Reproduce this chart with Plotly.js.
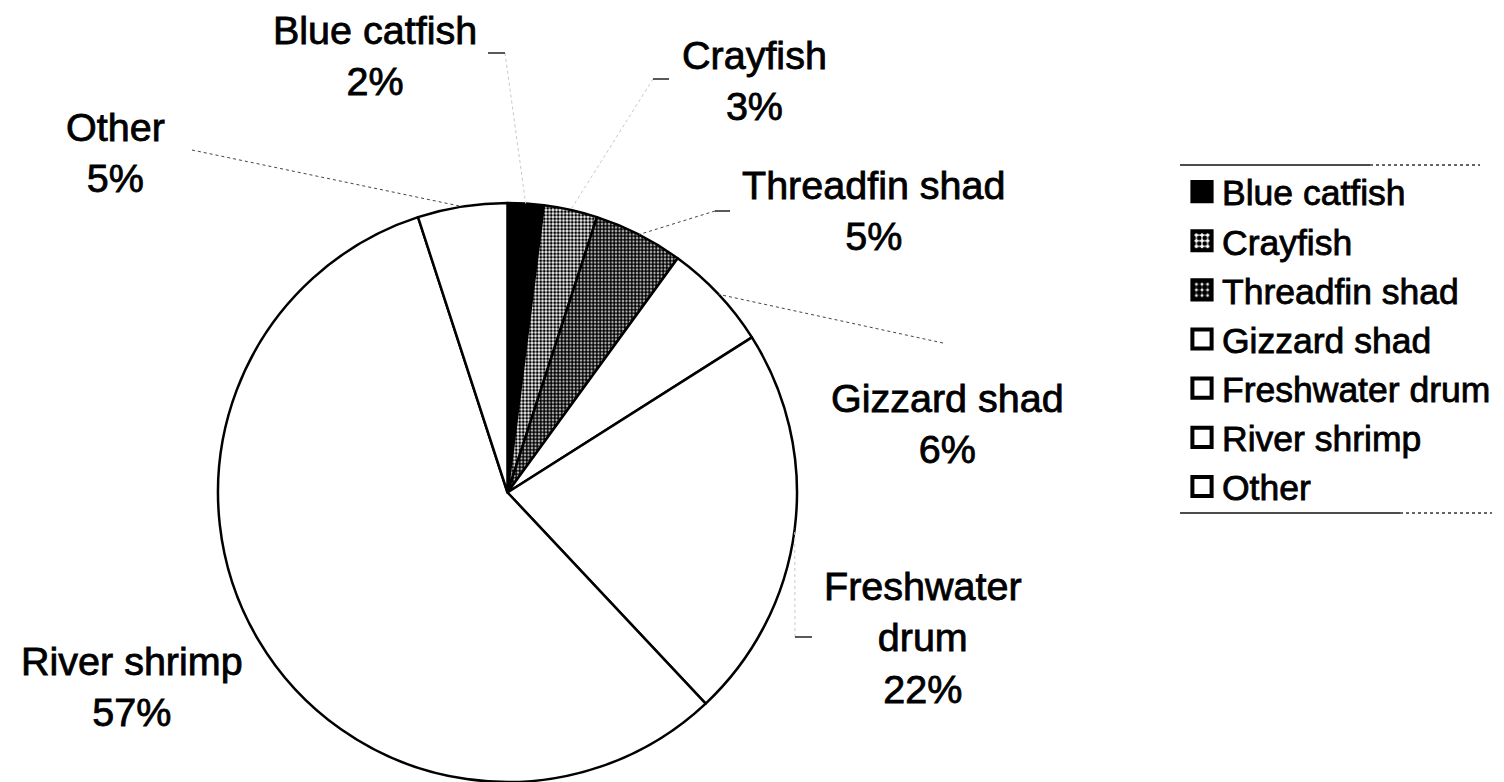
<!DOCTYPE html>
<html>
<head>
<meta charset="utf-8">
<script src="https://cdn.plot.ly/plotly-3.0.1.min.js"></script>
<style>
  html, body { margin: 0; padding: 0; background: #ffffff; overflow: hidden; }
  #chart { width: 1504px; height: 782px; }
  /* heavier glyphs for the printed-looking labels */
  #chart text.annotation-text, #chart text.legendtext { stroke: #000000; stroke-width: 0.8px; }
</style>
</head>
<body>
<div id="chart"></div>
<script>
// Diet composition (percent of total) by prey category
const categories = ['Blue catfish', 'Crayfish', 'Threadfin shad', 'Gizzard shad', 'Freshwater drum', 'River shrimp', 'Other'];
const percentages = [2, 3, 5, 6, 22, 57, 5];
// Label wording as printed beside each slice
const labelNames = ['Blue catfish', 'Crayfish', 'Threadfin shad', 'Gizzard shad', 'Freshwater<br>drum', 'River shrimp', 'Other'];

// Slice fills: solid black, two speckled greys, then plain white
const sliceColors = ['#000000', '#ffffff', '#ffffff', '#ffffff', '#ffffff', '#ffffff', '#ffffff'];
const patternShapes = ['', '.', '.', '', '', '', ''];
const patternSolidity = [0.3, 0.55, 0.75, 0.3, 0.3, 0.3, 0.3];

// Page geometry (pixels)
const W = 1504, H = 782;
const CX = 507.5, CY = 492.5, R = 289.5;

// Label block centres and leader-line anchor points (pixels)
const labelCenters = [[375, 55], [754, 81], [874, 210], [947, 423], [923, 637], [132, 686], [115, 153]];
const leaderStart = [[505, 53], [653, 79], [715, 211], [943, 343], [795, 637], null, [192, 150]];
const leaderStub = [[488, 505, 53], [653, 669, 79], [715, 730, 211], null, [795, 812, 637], null, null];
const leaderFaint = [true, true, false, false, true, null, false];

const FONT = '"Liberation Sans", Arial, "Helvetica Neue", sans-serif';

const px = x => x / W;
const py = y => 1 - y / H;

// Point on the rim at the middle of each slice (clockwise from 12 o'clock)
const total = percentages.reduce((a, b) => a + b, 0);
let cum = 0;
const rimPoints = percentages.map(v => {
  const theta = 2 * Math.PI * (cum + v / 2) / total;
  cum += v;
  return [CX + R * Math.sin(theta), CY - R * Math.cos(theta)];
});

const trace = {
  type: 'pie',
  labels: categories,
  values: percentages,
  sort: false,
  direction: 'clockwise',
  rotation: 0,
  textinfo: 'none',
  hoverinfo: 'label+percent',
  domain: { x: [px(CX - R), px(CX + R)], y: [py(CY + R), py(CY - R)] },
  marker: {
    colors: sliceColors,
    line: { color: '#000000', width: 2.5 },
    pattern: {
      shape: patternShapes,
      fgcolor: '#000000',
      bgcolor: '#ffffff',
      size: 3.5,
      solidity: patternSolidity
    }
  }
};

const annotations = categories.map((c, i) => ({
  xref: 'paper', yref: 'paper',
  x: px(labelCenters[i][0]), y: py(labelCenters[i][1]),
  xanchor: 'center', yanchor: 'middle',
  text: labelNames[i] + '<br>' + percentages[i] + '%',
  showarrow: false,
  align: 'center',
  font: { family: FONT, size: 39.5, color: '#000000' }
}));

const shapes = [];
categories.forEach((c, i) => {
  if (leaderStart[i]) {
    shapes.push({
      type: 'line', xref: 'paper', yref: 'paper',
      x0: px(leaderStart[i][0]), y0: py(leaderStart[i][1]),
      x1: px(rimPoints[i][0]), y1: py(rimPoints[i][1]),
      line: { color: leaderFaint[i] ? '#c8c8c8' : '#444444', width: 1, dash: 'dot' }
    });
  }
  if (leaderStub[i]) {
    shapes.push({
      type: 'line', xref: 'paper', yref: 'paper',
      x0: px(leaderStub[i][0]), y0: py(leaderStub[i][2]),
      x1: px(leaderStub[i][1]), y1: py(leaderStub[i][2]),
      line: { color: '#222222', width: 1.5 }
    });
  }
});

// Legend frame: rules above and below the entries
[[1180, 1370, 1480, 165], [1180, 1400, 1492, 513]].forEach(r => {
  shapes.push({ type: 'line', xref: 'paper', yref: 'paper', x0: px(r[0]), x1: px(r[1]), y0: py(r[3]), y1: py(r[3]),
    line: { color: '#111111', width: 1.5 } });
  shapes.push({ type: 'line', xref: 'paper', yref: 'paper', x0: px(r[1]), x1: px(r[2]), y0: py(r[3]), y1: py(r[3]),
    line: { color: '#333333', width: 1.5, dash: 'dot' } });
});

const layout = {
  width: W, height: H,
  margin: { l: 0, r: 0, t: 0, b: 0, pad: 0 },
  paper_bgcolor: '#ffffff',
  plot_bgcolor: '#ffffff',
  showlegend: true,
  legend: {
    x: px(1182), y: py(162), xanchor: 'left', yanchor: 'top',
    font: { family: FONT, size: 35.5, color: '#000000' },
    bgcolor: 'rgba(0,0,0,0)', borderwidth: 0,
    traceorder: 'normal'
  },
  annotations: annotations,
  shapes: shapes
};

function enlargeLegendSwatches(gd) {
  gd.querySelectorAll('.legend .legendpoints path').forEach(p => {
    if (p.getAttribute('data-scaled')) return;
    const t = p.getAttribute('transform') || '';
    p.setAttribute('transform', t + ' scale(1.6)');
    p.setAttribute('data-scaled', '1');
  });
}

Plotly.newPlot('chart', [trace], layout, { displayModeBar: false }).then(gd => {
  enlargeLegendSwatches(gd);
  gd.on('plotly_afterplot', () => enlargeLegendSwatches(gd));
});
</script>
</body>
</html>
